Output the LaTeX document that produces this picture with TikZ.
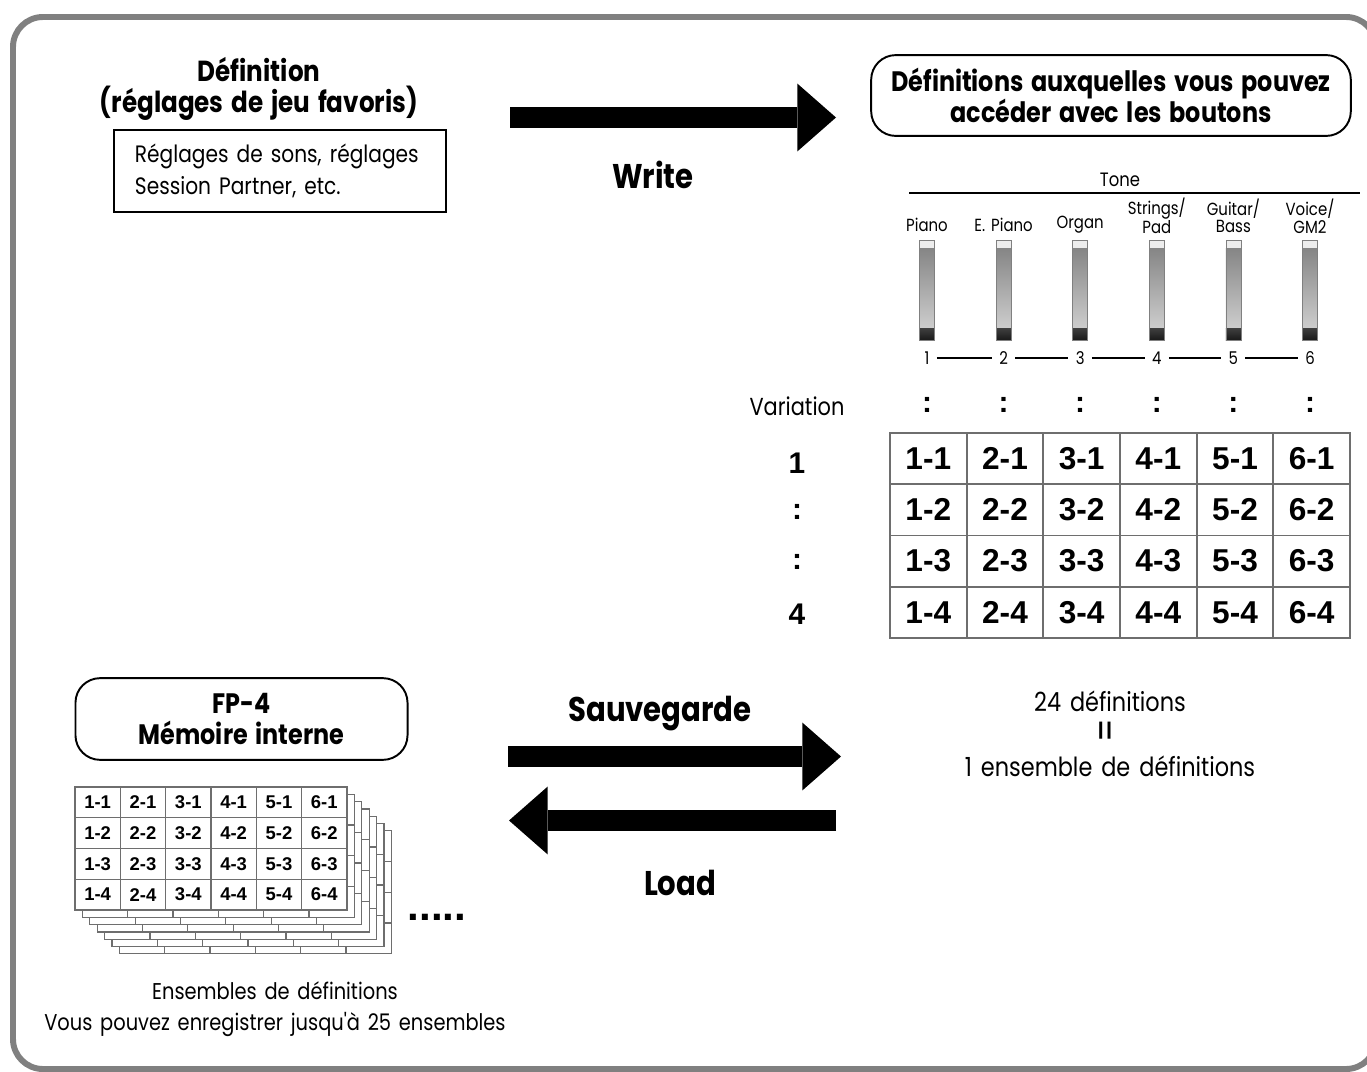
\documentclass[tikz,border=0pt]{standalone}
\usepackage{fontspec}
\newfontfamily\futura{Poppins}[FakeStretch=0.85, WordSpace=1.5]
\newfontfamily\helv{Liberation Sans}
\usetikzlibrary{positioning,arrows.meta}
\definecolor{framegray}{HTML}{808080}
\definecolor{gridgray}{HTML}{6E6E6E}
\definecolor{btndark}{HTML}{858585}
\definecolor{btnlight}{HTML}{CDCDCD}

\begin{document}
\begin{tikzpicture}[
    x=0.02cm, y=-0.02cm,
    every node/.style={font=\futura, inner sep=0pt},
    frame/.style={draw=framegray, line width=3.4pt, rounded corners=17pt},
    titlebox/.style={draw, line width=1.1pt, rounded corners=14pt, align=center,
      font=\futura\bfseries\fontsize{16}{18}\selectfont},
    plainbox/.style={draw, line width=1.1pt},
    headtext/.style={font=\futura\bfseries\fontsize{16.5}{18}\selectfont, align=center},
    bodytext/.style={font=\futura\fontsize{13.5}{18}\selectfont, align=center},
    arrowlabel/.style={font=\futura\bfseries\fontsize{19.5}{22}\selectfont},
    bigarrow/.style={line width=11.9pt, -{Triangle[length=22pt, width=38.6pt, line width=0pt]}},
    cellbig/.style={draw=gridgray, line width=0.9pt, fill=white, minimum width=43.5pt,
      minimum height=29.1pt, font=\helv\bfseries\fontsize{18}{18}\selectfont},
    cellsmall/.style={draw=gridgray, line width=0.7pt, fill=white, minimum width=25.7pt,
      minimum height=17.4pt, font=\helv\bfseries\fontsize{10.5}{10.5}\selectfont},
    tonelabel/.style={font=\futura\fontsize{10}{10}\selectfont, align=center},
    varlabel/.style={font=\helv\bfseries\fontsize{17}{17}\selectfont},
]
\useasboundingbox (0,0) rectangle (1367,1072);

% ---- Frame ----
\begin{scope}
  \clip (0,0) rectangle (1367,1072);
  \draw[frame] (13,17) rectangle (1376,1069);
\end{scope}

% ---- Top left: definition ----
\node[headtext] (defhead) at (259,89) {Définition\\(réglages de jeu favoris)};
\node[plainbox, minimum width=189.4pt, minimum height=46.5pt] (defbox) at (280,171) {};
\node[bodytext, align=left, anchor=west] (deftext) at ([xshift=12.5pt]defbox.west)
  {Réglages de sons, réglages\\Session Partner, etc.};

% ---- Write arrow ----
\coordinate (wstart) at (510,117.5);
\coordinate (wend) at (836,117.5);
\draw[bigarrow] (wstart) -- (wend);
\node[arrowlabel] (write) at (653,175) {Write};

% ---- Top right: buttons ----
\node[titlebox, minimum width=273pt, minimum height=46pt] (buttons) at (1111,95.5)
  {Définitions auxquelles vous pouvez\\accéder avec les boutons};

\node[tonelabel, font=\futura\fontsize{11}{11}\selectfont] (tone) at (1120,180) {Tone};
\draw[line width=0.9pt] (909,193) -- (1360,193);

\foreach \i/\lbl/\ly in {1/Piano/225, 2/E. Piano/225, 3/Organ/225,
    4/{Strings/\\Pad}/216, 5/{Guitar/\\Bass}/216, 6/{Voice/\\GM2}/216} {
  \pgfmathsetmacro{\bx}{927+76.6*(\i-1)}
  \node[tonelabel] (t\i) at (\bx,\ly) {\lbl};
  % slider button
  \fill[white!93!black] (\bx-7.5,240) rectangle (\bx+7.5,248);
  \shade[top color=btndark, bottom color=btnlight] (\bx-7.5,248) rectangle (\bx+7.5,328);
  \shade[top color=black!75, bottom color=black!90] (\bx-7.5,328) rectangle (\bx+7.5,340);
  \draw[gray, line width=0.4pt] (\bx-7.5,240) rectangle (\bx+7.5,340);
  \node[tonelabel] (n\i) at (\bx,358) {\i};
  \node[varlabel] (c\i) at (\bx,405) {:};
}
\foreach \i [evaluate=\i as \j using int(\i+1)] in {1,...,5}
  \draw[line width=0.8pt, shorten <=4pt, shorten >=4pt] (n\i) -- (n\j);

% ---- Variation table ----
\node[font=\futura\fontsize{14}{14}\selectfont] (variation) at (797,406) {Variation};
\node[varlabel] (v1) at (797,463) {1};
\node[varlabel] (v2) at (797,512) {:};
\node[varlabel] (v3) at (797,562) {:};
\node[varlabel] (v4) at (797,614) {4};

\foreach \c in {1,...,6}
  \foreach \r in {1,...,4}
    \node[cellbig] (b\c\r) at ({890+76.67*(\c-0.5)},{433+51.25*(\r-0.5)}) {\c-\r};

% ---- Bottom right: one set ----
\node[bodytext, font=\futura\fontsize{15}{18}\selectfont] (set24) at (1110,701) {24 définitions};
\node[font=\futura\fontsize{22}{22}\selectfont, rotate=90] (equal) at (1110,731) {=};
\node[bodytext, font=\futura\fontsize{15}{18}\selectfont] (set1) at (1110,766) {1 ensemble de définitions};

% ---- Sauvegarde / Load arrows ----
\coordinate (sstart) at (508,756.5);
\coordinate (send) at (841,756.5);
\coordinate (lstart) at (836,820.5);
\coordinate (lend) at (509,820.5);
\draw[bigarrow] (sstart) -- (send);
\draw[bigarrow] (lstart) -- (lend);
\node[arrowlabel] (save) at (660,714) {Sauvegarde};
\node[arrowlabel] (load) at (680,883) {Load};

% ---- Bottom left: internal memory ----
\node[titlebox, minimum width=189pt, minimum height=46.5pt] (memory) at (241.5,719)
  {FP-4\\Mémoire interne};

% stacked sets, back to front
\foreach \k in {6,5,...,1} {
  \begin{scope}[shift={(7.4*\k,7.3*\k)}]
    \filldraw[fill=white, draw=gridgray, line width=0.7pt] (75,787) rectangle (347,910);
    \foreach \i in {1,...,5}
      \draw[gridgray, line width=0.7pt] ({75+45.33*\i},787) -- ({75+45.33*\i},910);
    \foreach \j in {1,2,3}
      \draw[gridgray, line width=0.7pt] (75,{787+30.75*\j}) -- (347,{787+30.75*\j});
  \end{scope}
}
\foreach \c in {1,...,6}
  \foreach \r in {1,...,4}
    \node[cellsmall] (s\c\r) at ({75+45.33*(\c-0.5)},{787+30.75*(\r-0.5)}) {\c-\r};

\node[font=\helv\bfseries\fontsize{24}{24}\selectfont] (more) at (437,917) {.....};

\node[bodytext, font=\futura\fontsize{13}{18}\selectfont] (sets) at (275,1009)
  {Ensembles de définitions\\Vous pouvez enregistrer jusqu'à 25 ensembles};

\end{tikzpicture}
\end{document}
